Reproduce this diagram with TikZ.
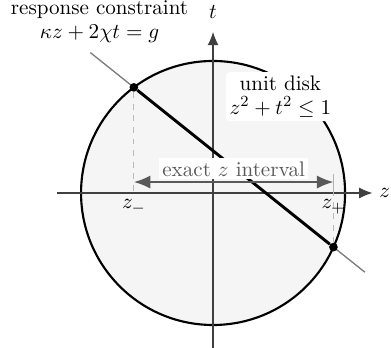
\documentclass[tikz,border=0pt]{standalone}
\usetikzlibrary{arrows.meta}
\begin{document}
\begin{tikzpicture}[x=2.4cm, y=2.4cm, font=\fontsize{10.9pt}{12.2pt}\selectfont,
  axis/.style={draw=black!75, line width=0.6pt, -{Latex[length=2.4mm, width=2mm]}},
  guide/.style={draw=gray!55, dashed, line width=0.5pt},
  endpt/.style={circle, fill=black, inner sep=0pt, minimum size=4.5pt}]
  \useasboundingbox (-1.614, -1.174) rectangle (1.348, 1.462);

  % Disk
  \draw[fill=gray!8, line width=1.1pt] (0, 0) circle (1);
  \node[align=center, fill=white, rounded corners=2pt, inner sep=2pt] (disklab) at (0.51, 0.73) {unit disk\\ $z^2+t^2 \le 1$};

  % Axes
  \coordinate (zL) at (-1.18, 0);
  \coordinate (tB) at (0, -1.2);
  \node (zlab) at (1.30, 0) {$z$};
  \node (tlab) at (0, 1.37) {$t$};
  \draw[axis] (zL) -- (zlab.west);
  \draw[axis] (tB) -- (0, 1.22);

  % Constraint line and chord
  \coordinate (cU) at (-0.93, 1.064);
  \coordinate (cD) at (1.15, -0.6);
  \node[align=center, anchor=south] (conlab) at (-0.86, 1.09) {response constraint\\ $\kappa z + 2\chi t = g$};
  \draw[gray, line width=0.7pt] (cU) -- (cD);
  \node[endpt] (zm) at (-0.6, 0.8) {};
  \node[endpt] (zp) at (0.912, -0.410) {};
  \draw[line width=1.5pt] (zm) -- (zp);

  % Interval
  \coordinate (zmA) at (-0.6, 0);
  \coordinate (zpA) at (0.912, 0);
  \coordinate (zpT) at (0.912, 0.145);
  \draw[guide] (zm) -- (zmA);
  \draw[guide] (zp) -- (zpA);
  \draw[gray!60, line width=0.5pt] (zpA) -- (zpT);
  \node[below] (zmlab) at (zmA) {$z_-$};
  \node[below] (zplab) at (zpA) {$z_+$};
  \coordinate (ivL) at (-0.6, 0.083);
  \coordinate (ivR) at (0.912, 0.083);
  \draw[draw=black!65, line width=1pt, {Latex[length=3mm, width=2.4mm]}-{Latex[length=3mm, width=2.4mm]}] (ivL) -- (ivR)
    node[midway, above=1pt, fill=white, inner sep=1.5pt, text=black!65] (ivlab) {exact $z$ interval};
\end{tikzpicture}
\end{document}
